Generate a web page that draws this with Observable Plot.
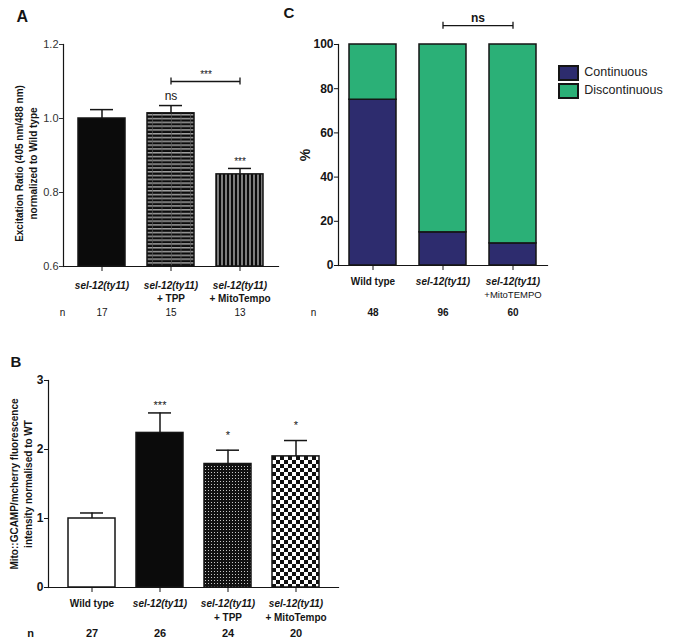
<!DOCTYPE html>
<html><head><meta charset="utf-8">
<script src="https://cdn.jsdelivr.net/npm/d3@7"></script>
<script src="https://cdn.jsdelivr.net/npm/@observablehq/plot@0.6"></script>
<style>
body{margin:0;background:#fff;font-family:"Liberation Sans",Arial,sans-serif;}
#wrap{position:relative;width:679px;height:642px;overflow:hidden;}
#legendC{position:absolute;left:559px;top:64px;width:120px;}
#legendC svg{overflow:visible;}
#legendC svg rect{stroke:#151515;stroke-width:2px;}
</style></head><body>
<svg width="0" height="0" style="position:absolute;left:0;top:0">
<defs>
<pattern id="hstripe" patternUnits="userSpaceOnUse" width="9.5" height="3.8">
<rect width="9.5" height="3.8" fill="#0c0c0c"/>
<rect y="0" width="9.5" height="1.5" fill="#a0a0a0"/>
<rect x="0" width="0.7" height="3.8" fill="#5a5a5a"/>
</pattern>
<pattern id="vstripe" patternUnits="userSpaceOnUse" width="4" height="4">
<rect width="4" height="4" fill="#0a0a0a"/>
<rect x="1.5" width="1" height="4" fill="#eeeeee"/>
</pattern>
<pattern id="dots" patternUnits="userSpaceOnUse" width="3" height="3">
<rect width="3" height="3" fill="#111"/>
<rect x="1" y="1" width="1" height="1" fill="#c8c8c8"/>
</pattern>
<pattern id="checker" patternUnits="userSpaceOnUse" width="8" height="8">
<rect width="8" height="8" fill="#fff"/>
<rect width="4" height="4" fill="#111"/>
<rect x="4" y="4" width="4" height="4" fill="#111"/>
</pattern>
</defs></svg>
<div id="wrap"><div id="legendC"></div></div>
<script>
// ---------- Panel A data ----------
const catsA = ["sel-12(ty11)", "sel-12(ty11) + TPP", "sel-12(ty11) + MitoTempo"];
const line1A = ["sel-12(ty11)", "sel-12(ty11)", "sel-12(ty11)"];
const line2A = ["", "+ TPP", "+ MitoTempo"];
const meanA = [1.0, 1.014, 0.849];
const errA = [0.024, 0.021, 0.016];
const nA = ["17", "15", "13"];
const sigA = ["", "ns", "***"];
const ticksA = [0.6, 0.8, 1.0, 1.2];
const bracketCatsA = ["sel-12(ty11) + TPP", "sel-12(ty11) + MitoTempo"];
const bracketLevelA = 1.1;
const bracketLabelA = "***";
const titleA = "Excitation Ratio (405 nm/488 nm)\nnormalized to Wild type";

// ---------- Panel B data ----------
const catsB = ["Wild type", "sel-12(ty11)", "sel-12(ty11) + TPP", "sel-12(ty11) + MitoTempo"];
const line1B = ["Wild type", "sel-12(ty11)", "sel-12(ty11)", "sel-12(ty11)"];
const italicB = [false, true, true, true];
const line2B = ["", "", "+ TPP", "+ MitoTempo"];
const meanB = [1.0, 2.24, 1.79, 1.9];
const errB = [0.08, 0.29, 0.2, 0.23];
const nB = ["27", "26", "24", "20"];
const sigB = ["", "***", "*", "*"];
const ticksB = [0, 1, 2, 3];
const titleB = "Mito::GCAMP/mcherry fluorescence\nintensity normalised to WT";

// ---------- Panel C data ----------
const catsC = ["Wild type", "sel-12(ty11)", "sel-12(ty11) +MitoTEMPO"];
const line1C = ["Wild type", "sel-12(ty11)", "sel-12(ty11)"];
const italicC = [false, true, true];
const line2C = ["", "", "+MitoTEMPO"];
const seriesC = ["Continuous", "Discontinuous"];
const continuousC = [75, 15, 10];
const discontinuousC = [25, 85, 90];
const nC = ["48", "96", "60"];
const ticksC = [0, 20, 40, 60, 80, 100];
const bracketCatsC = ["sel-12(ty11)", "sel-12(ty11) +MitoTEMPO"];
const bracketLevelC = 108.5;
const bracketLabelC = "ns";

// ---------- styles ----------
const fillA = ["#0b0b0b", "url(#hstripe)", "url(#vstripe)"];
const fillB = ["#ffffff", "#0b0b0b", "url(#dots)", "url(#checker)"];
const colorsC = ["#2d2c6e", "#2bb077"];
const INK = "#151515";
const FONT = "'Liberation Sans', Arial, sans-serif";
const W = 679, H = 642;

const wrap = document.getElementById("wrap");
function mount(svg) {
  svg.style.position = "absolute";
  svg.style.left = "0px";
  svg.style.top = "0px";
  wrap.appendChild(svg);
}
const baseStyle = {fontFamily: FONT, fontSize: "10px", color: INK, background: "transparent", overflow: "visible"};

// ---------- A ----------
const dataA = catsA.map((c, i) => ({cat: c, l1: line1A[i], l2: line2A[i], mean: meanA[i], top: meanA[i] + errA[i], n: nA[i], sig: sigA[i], fill: fillA[i], base: ticksA[0]}));
const brA = bracketCatsA.map(c => ({cat: c, level: bracketLevelA}));
mount(Plot.plot({
  width: W, height: H,
  marginLeft: 63, marginRight: W - 278, marginTop: 44, marginBottom: H - 266,
  style: baseStyle,
  x: {domain: catsA, paddingInner: 0.32, paddingOuter: 0.2},
  y: {domain: [ticksA[0], ticksA[ticksA.length - 1]]},
  color: {type: "identity"},
  marks: [
    Plot.barY(dataA, {x: "cat", y1: "base", y2: "mean", fill: "fill", stroke: INK, strokeWidth: 1.5}),
    Plot.ruleX(dataA, {x: "cat", y1: "mean", y2: "top", stroke: INK, strokeWidth: 1.5}),
    Plot.tickY(dataA, {x: "cat", y: "top", insetLeft: 12, insetRight: 12, stroke: INK, strokeWidth: 1.5}),
    Plot.frame({anchor: "left", stroke: INK, strokeWidth: 1.2}),
    Plot.frame({anchor: "bottom", stroke: INK, strokeWidth: 1.2}),
    Plot.axisY({ticks: ticksA, tickFormat: d3.format(".1f"), tickSize: 4, tickPadding: 1, label: null, fontSize: 11, color: "#333"}),
    Plot.axisX({tickSize: 5, tickFormat: () => "", label: null}),
    Plot.text(dataA, {x: "cat", text: "l1", frameAnchor: "bottom", lineAnchor: "middle", dy: 19, fontWeight: "bold", fontStyle: "italic", fontSize: 10, fill: INK}),
    Plot.text(dataA, {x: "cat", text: "l2", frameAnchor: "bottom", lineAnchor: "middle", dy: 32, fontWeight: "bold", fontSize: 10, fill: INK}),
    Plot.text(dataA, {x: "cat", text: "n", frameAnchor: "bottom", lineAnchor: "middle", dy: 46, fontSize: 10, fill: INK}),
    Plot.text(["n"], {text: d => d, frameAnchor: "bottom-left", lineAnchor: "middle", textAnchor: "middle", dx: -1, dy: 46, fontSize: 10, fill: INK}),
    Plot.text(dataA.filter(d => d.sig === "ns"), {x: "cat", y: "top", text: "sig", dy: -9, fontSize: 12, fill: INK}),
    Plot.text(dataA.filter(d => d.sig === "***"), {x: "cat", y: "top", text: "sig", dy: -7, fontSize: 10, fill: INK}),
    Plot.link([{a: bracketCatsA[0], b: bracketCatsA[1], level: bracketLevelA}], {x1: "a", x2: "b", y1: "level", y2: "level", stroke: INK, strokeWidth: 1.3}),
    Plot.ruleX(brA, {x: "cat", y1: "level", y2: "level", insetTop: -3.5, insetBottom: -3.5, stroke: INK, strokeWidth: 1.3}),
    Plot.text([{a: bracketCatsA[0], b: bracketCatsA[1], level: bracketLevelA}], {x: d => d.a, y: "level", text: () => bracketLabelA, dx: 35, dy: -7, fontSize: 10, fill: INK}),
    Plot.text([titleA], {text: d => d, frameAnchor: "left", rotate: -90, lineAnchor: "middle", textAnchor: "middle", dx: -38, dy: 8, fontWeight: "bold", fontSize: 10, lineHeight: 1.45, fill: INK}),
    Plot.text(["A"], {text: d => d, frameAnchor: "top-left", textAnchor: "start", lineAnchor: "middle", dx: -47, dy: -28, fontWeight: "bold", fontSize: 16, fill: INK})
  ]
}));

// ---------- B ----------
const dataB = catsB.map((c, i) => ({cat: c, l1: line1B[i], it: italicB[i], l2: line2B[i], mean: meanB[i], top: meanB[i] + errB[i], n: nB[i], sig: sigB[i], fill: fillB[i], base: ticksB[0]}));
mount(Plot.plot({
  width: W, height: H,
  marginLeft: 48, marginRight: W - 338, marginTop: 380, marginBottom: H - 587,
  style: baseStyle,
  x: {domain: catsB, paddingInner: 0.31, paddingOuter: 0.26},
  y: {domain: [ticksB[0], ticksB[ticksB.length - 1]]},
  color: {type: "identity"},
  marks: [
    Plot.barY(dataB, {x: "cat", y1: "base", y2: "mean", fill: "fill", stroke: INK, strokeWidth: 1.5}),
    Plot.ruleX(dataB, {x: "cat", y1: "mean", y2: "top", stroke: INK, strokeWidth: 1.5}),
    Plot.tickY(dataB, {x: "cat", y: "top", insetLeft: 12, insetRight: 12, stroke: INK, strokeWidth: 1.5}),
    Plot.frame({anchor: "left", stroke: INK, strokeWidth: 1.2}),
    Plot.frame({anchor: "bottom", stroke: INK, strokeWidth: 1.2}),
    Plot.axisY({ticks: ticksB, tickFormat: d3.format("d"), tickSize: 4, tickPadding: 1, label: null, fontSize: 12, fontWeight: "bold"}),
    Plot.axisX({tickSize: 5, tickFormat: () => "", label: null}),
    Plot.text(dataB.filter(d => !d.it), {x: "cat", text: "l1", frameAnchor: "bottom", lineAnchor: "middle", dy: 16, fontWeight: "bold", fontSize: 10, fill: INK}),
    Plot.text(dataB.filter(d => d.it), {x: "cat", text: "l1", frameAnchor: "bottom", lineAnchor: "middle", dy: 16, fontWeight: "bold", fontStyle: "italic", fontSize: 10, fill: INK}),
    Plot.text(dataB, {x: "cat", text: "l2", frameAnchor: "bottom", lineAnchor: "middle", dy: 30, fontWeight: "bold", fontSize: 10, fill: INK}),
    Plot.text(dataB, {x: "cat", text: "n", frameAnchor: "bottom", lineAnchor: "middle", dy: 46, fontWeight: "bold", fontSize: 11, fill: INK}),
    Plot.text(["n"], {text: d => d, frameAnchor: "bottom-left", lineAnchor: "middle", textAnchor: "middle", dx: -18, dy: 46, fontWeight: "bold", fontSize: 11, fill: INK}),
    Plot.text(dataB.filter(d => d.sig === "***"), {x: "cat", y: "top", text: "sig", dy: -7, fontSize: 11, fill: INK}),
    Plot.text(dataB.filter(d => d.sig === "*"), {x: "cat", y: "top", text: "sig", dy: -15, fontSize: 11, fill: INK}),
    Plot.text([titleB], {text: d => d, frameAnchor: "left", rotate: -90, lineAnchor: "middle", textAnchor: "middle", dx: -28, dy: 0, fontWeight: "bold", fontSize: 10, lineHeight: 1.45, fill: INK}),
    Plot.text(["B"], {text: d => d, frameAnchor: "top-left", textAnchor: "start", lineAnchor: "middle", dx: -38, dy: -18, fontWeight: "bold", fontSize: 15, fill: INK})
  ]
}));

// ---------- C ----------
const dataC = [];
catsC.forEach((c, i) => {
  dataC.push({cat: c, series: seriesC[0], value: continuousC[i]});
  dataC.push({cat: c, series: seriesC[1], value: discontinuousC[i]});
});
const labC = catsC.map((c, i) => ({cat: c, l1: line1C[i], it: italicC[i], l2: line2C[i], n: nC[i]}));
const brC = bracketCatsC.map(c => ({cat: c, level: bracketLevelC}));
mount(Plot.plot({
  width: W, height: H,
  marginLeft: 338, marginRight: W - 547, marginTop: 44, marginBottom: H - 265,
  style: baseStyle,
  x: {domain: catsC, paddingInner: 0.33, paddingOuter: 0.15},
  y: {domain: [ticksC[0], ticksC[ticksC.length - 1]]},
  color: {domain: seriesC, range: colorsC},
  marks: [
    Plot.barY(dataC, {x: "cat", y: "value", fill: "series", stroke: INK, strokeWidth: 1.5}),
    Plot.frame({anchor: "left", stroke: INK, strokeWidth: 1.2}),
    Plot.frame({anchor: "bottom", stroke: INK, strokeWidth: 1.2}),
    Plot.axisY({ticks: ticksC, tickFormat: d3.format("d"), tickSize: 4, tickPadding: 1, label: null, fontSize: 12, fontWeight: "bold"}),
    Plot.axisX({tickSize: 5, tickFormat: () => "", label: null}),
    Plot.text(labC.filter(d => !d.it), {x: "cat", text: "l1", frameAnchor: "bottom", lineAnchor: "middle", dy: 16, fontWeight: "bold", fontSize: 10, fill: INK}),
    Plot.text(labC.filter(d => d.it), {x: "cat", text: "l1", frameAnchor: "bottom", lineAnchor: "middle", dy: 16, fontWeight: "bold", fontStyle: "italic", fontSize: 10, fill: INK}),
    Plot.text(labC, {x: "cat", text: "l2", frameAnchor: "bottom", lineAnchor: "middle", dy: 29, fontSize: 9.5, fill: INK}),
    Plot.text(labC, {x: "cat", text: "n", frameAnchor: "bottom", lineAnchor: "middle", dy: 47, fontWeight: "bold", fontSize: 10, fill: INK}),
    Plot.text(["n"], {text: d => d, frameAnchor: "bottom-left", lineAnchor: "middle", textAnchor: "middle", dx: -25, dy: 47, fontSize: 10, fill: INK}),
    Plot.link([{a: bracketCatsC[0], b: bracketCatsC[1], level: bracketLevelC}], {x1: "a", x2: "b", y1: "level", y2: "level", stroke: INK, strokeWidth: 1.3}),
    Plot.ruleX(brC, {x: "cat", y1: "level", y2: "level", insetTop: -3.5, insetBottom: -3.5, stroke: INK, strokeWidth: 1.3}),
    Plot.text([{a: bracketCatsC[0], level: bracketLevelC}], {x: d => d.a, y: "level", text: () => bracketLabelC, dx: 35, dy: -8, fontWeight: "bold", fontSize: 12, fill: INK}),
    Plot.text(["%"], {text: d => d, frameAnchor: "left", rotate: -90, lineAnchor: "middle", textAnchor: "middle", dx: -33, dy: 0, fontWeight: "bold", fontSize: 14, fill: INK}),
    Plot.text(["C"], {text: d => d, frameAnchor: "top-left", textAnchor: "start", lineAnchor: "middle", dx: -55, dy: -31, fontWeight: "bold", fontSize: 15, fill: INK})
  ]
}));

// legend for C
document.getElementById("legendC").appendChild(Plot.legend({
  color: {domain: seriesC, range: colorsC},
  legend: "swatches",
  columns: 1,
  swatchWidth: 19,
  swatchHeight: 14,
  style: {fontFamily: FONT, fontSize: "12.5px", color: "#222", lineHeight: "17px"}
}));
</script>
</body></html>
